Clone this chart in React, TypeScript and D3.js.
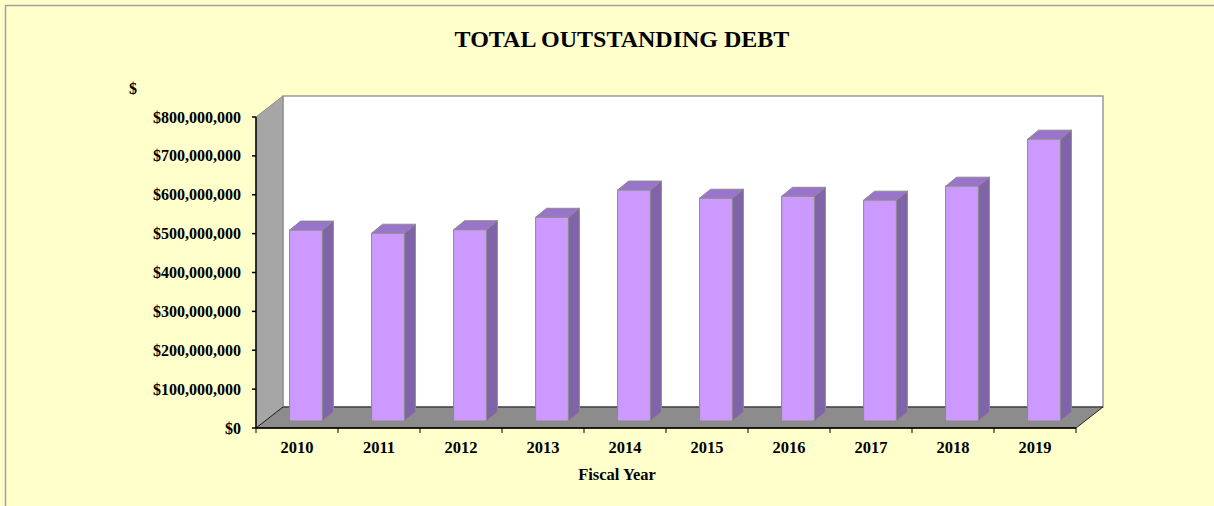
import * as d3 from "d3";

const years = ["2010", "2011", "2012", "2013", "2014", "2015", "2016", "2017", "2018", "2019"];
const debt = [491e6, 483e6, 492e6, 524e6, 594e6, 573e6, 578e6, 568e6, 604e6, 725e6];
const yTicks = [0, 1e8, 2e8, 3e8, 4e8, 5e8, 6e8, 7e8, 8e8];

const width = 1214;
const height = 506;
const font = "'Liberation Serif', 'Times New Roman', serif";

// 3d depth of the plot box and of the bars
const depth = { dx: 27, dy: -21 };
const barOff = { dx: 9, dy: -7 };
const barDepth = { dx: 11, dy: -9 };

const App = () => {
  const x = d3.scaleBand().domain(years).range([256, 1076]).paddingInner(0.6).paddingOuter(0.3);
  const y = d3.scaleLinear().domain([0, 800e6]).range([428, 117]);
  const fmt = (v: number) => "$" + d3.format(",")(v);

  const x0 = x.range()[0];
  const x1 = x.range()[1];
  const yTop = y(800e6);
  const yBot = y(0);
  const pts = (p: number[][]) => p.map((d) => d.join(",")).join(" ");
  const step = x.step();

  return (
    <div style={{ position: "absolute", left: 0, top: 0 }}>
      <svg width={width} height={height} style={{ display: "block" }}>
        <rect x={0} y={0} width={width} height={height} fill="#ffffcc" />
        <path d={`M5.5,${height} V5.5 H${width}`} fill="none" stroke="#a0a0a0" strokeWidth={1.5} />

        <text x={622} y={47} textAnchor="middle" fontFamily={font} fontWeight="bold" fontSize={24}>
          TOTAL OUTSTANDING DEBT
        </text>

        {/* walls */}
        <rect
          x={x0 + depth.dx}
          y={yTop + depth.dy}
          width={x1 - x0}
          height={yBot - yTop}
          fill="#ffffff"
          stroke="#999999"
          strokeWidth={1.5}
        />
        <polygon
          points={pts([
            [x0, yTop],
            [x0 + depth.dx, yTop + depth.dy],
            [x0 + depth.dx, yBot + depth.dy],
            [x0, yBot],
          ])}
          fill="#a6a6a6"
          stroke="#8c8c8c"
        />
        <polygon
          points={pts([
            [x0, yBot],
            [x0 + depth.dx, yBot + depth.dy],
            [x1 + depth.dx, yBot + depth.dy],
            [x1, yBot],
          ])}
          fill="#8c8c8c"
          stroke="#000000"
          strokeWidth={0.8}
        />

        {/* bars */}
        {years.map((yr, i) => {
          const bx = (x(yr) as number) + barOff.dx;
          const bw = x.bandwidth();
          const base = y(0) + barOff.dy;
          const top = y(debt[i]) + barOff.dy;
          const { dx, dy } = barDepth;
          return (
            <g key={yr} stroke="#8a8a8a" strokeWidth={1} strokeLinejoin="round">
              <polygon
                points={pts([
                  [bx + bw, top],
                  [bx + bw + dx, top + dy],
                  [bx + bw + dx, base + dy],
                  [bx + bw, base],
                ])}
                fill="#8064a8"
              />
              <polygon
                points={pts([
                  [bx, top],
                  [bx + dx, top + dy],
                  [bx + bw + dx, top + dy],
                  [bx + bw, top],
                ])}
                fill="#9a74cc"
              />
              <rect x={bx} y={top} width={bw} height={base - top} fill="#cc99ff" />
            </g>
          );
        })}

        {/* axes */}
        <g stroke="#000" strokeWidth={1.5} fill="none">
          <line x1={x0} x2={x0} y1={yTop} y2={yBot} />
          <line x1={x0} x2={x1} y1={yBot} y2={yBot} />
          {yTicks.map((t) => (
            <line key={t} x1={x0 - 4} x2={x0} y1={y(t)} y2={y(t)} />
          ))}
          {d3.range(years.length + 1).map((k) => (
            <line key={k} x1={x0 + k * step} x2={x0 + k * step} y1={yBot} y2={yBot + 5} strokeWidth={1} />
          ))}
        </g>

        <g fontFamily={font} fontWeight="bold" fontSize={16} textAnchor="end">
          {yTicks.map((t) => (
            <text key={t} x={241} y={y(t) + 5.5}>
              {fmt(t)}
            </text>
          ))}
        </g>
        <text x={133} y={94} fontFamily={font} fontWeight="bold" fontSize={16} textAnchor="middle">
          $
        </text>

        <g fontFamily={font} fontWeight="bold" fontSize={16.5} textAnchor="middle">
          {years.map((yr) => (
            <text key={yr} x={(x(yr) as number) + x.bandwidth() / 2} y={453}>
              {yr}
            </text>
          ))}
        </g>
        <text x={617} y={480} fontFamily={font} fontWeight="bold" fontSize={16.5} textAnchor="middle">
          Fiscal Year
        </text>
      </svg>
    </div>
  );
};

export default App;
